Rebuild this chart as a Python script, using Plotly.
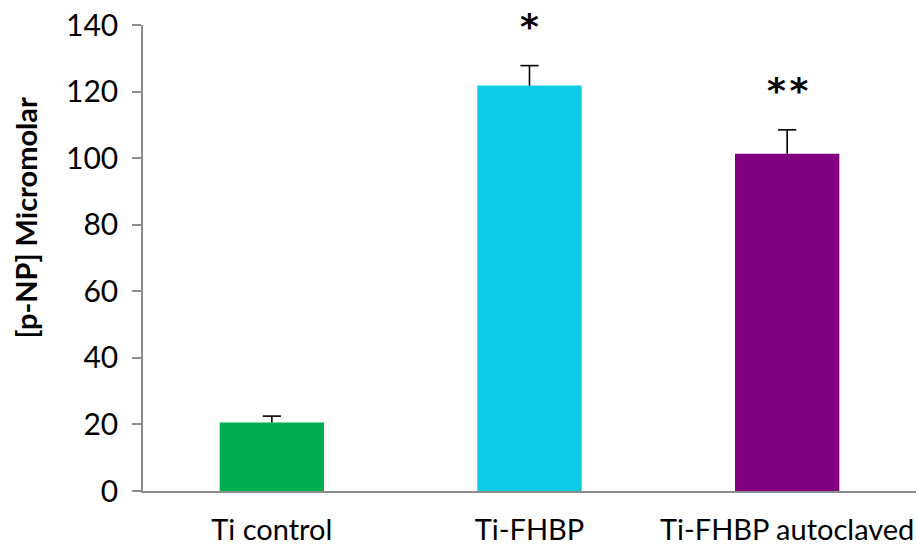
import plotly.graph_objects as go

# p-NP release by surface treatment
categories = ["Ti control", "Ti-FHBP", "Ti-FHBP autoclaved"]
values = [20.6, 121.8, 101.3]
errors = [1.9, 6.0, 7.2]
colors = ["#00b050", "#0ecbe5", "#800080"]
significance = ["", "*", "*\u200a*"]
y_ticks = [0, 20, 40, 60, 80, 100, 120, 140]

FONT = "Lato, 'Open Sans', sans-serif"
STAR_FONT = "'DejaVu Sans', sans-serif"

fig = go.Figure()
fig.add_trace(go.Bar(
    x=categories,
    y=values,
    marker=dict(color=colors, line=dict(width=0)),
    width=0.405,
    showlegend=False,
))

# upper-only error bars: stem from bar top to mean + error, cap at the end
tops = [v + e for v, e in zip(values, errors)]
stem_x, stem_y = [], []
for c, v, t in zip(categories, values, tops):
    stem_x += [c, c, None]
    stem_y += [v, t, None]
fig.add_trace(go.Scatter(
    x=stem_x, y=stem_y, mode="lines",
    line=dict(color="black", width=1.6),
    hoverinfo="skip", showlegend=False,
))
fig.add_trace(go.Scatter(
    x=categories, y=tops, mode="markers",
    marker=dict(symbol="line-ew", size=13, line=dict(color="black", width=1.6)),
    hoverinfo="skip", showlegend=False,
))

for cat, t, s in zip(categories, tops, significance):
    if s:
        fig.add_annotation(
            x=cat, y=t, text="<b>" + s + "</b>", showarrow=False,
            yanchor="middle", yshift=39,
            font=dict(family=STAR_FONT, size=36, color="black"),
        )

# y-axis title, set slightly above the plot's vertical centre
fig.add_annotation(
    xref="paper", yref="paper", x=0, y=0.585,
    xanchor="center", yanchor="middle", xshift=-118,
    text="<b>[p-NP] Micromolar</b>", textangle=-90, showarrow=False,
    font=dict(family=FONT, size=29, color="black"),
)

fig.update_layout(
    width=917, height=557,
    margin=dict(l=143, r=1, t=25, b=66),
    plot_bgcolor="white",
    paper_bgcolor="white",
    font=dict(family=FONT, size=29, color="black"),
)
fig.update_xaxes(
    range=[-0.5, 2.5],
    showline=True, linecolor="#8c8c8c", linewidth=1.5,
    ticks="", showgrid=False, zeroline=False,
    tickfont=dict(family=FONT, size=29, color="black"),
    ticklabelstandoff=12,
)
fig.update_yaxes(
    range=[0, 140],
    tickvals=y_ticks,
    showline=True, linecolor="#8c8c8c", linewidth=1.5,
    ticks="outside", ticklen=9, tickcolor="#8c8c8c", tickwidth=1.5,
    showgrid=False, zeroline=False,
    tickfont=dict(family=FONT, size=30, color="black"),
    ticklabelstandoff=8,
)

fig.write_html("out.html")
